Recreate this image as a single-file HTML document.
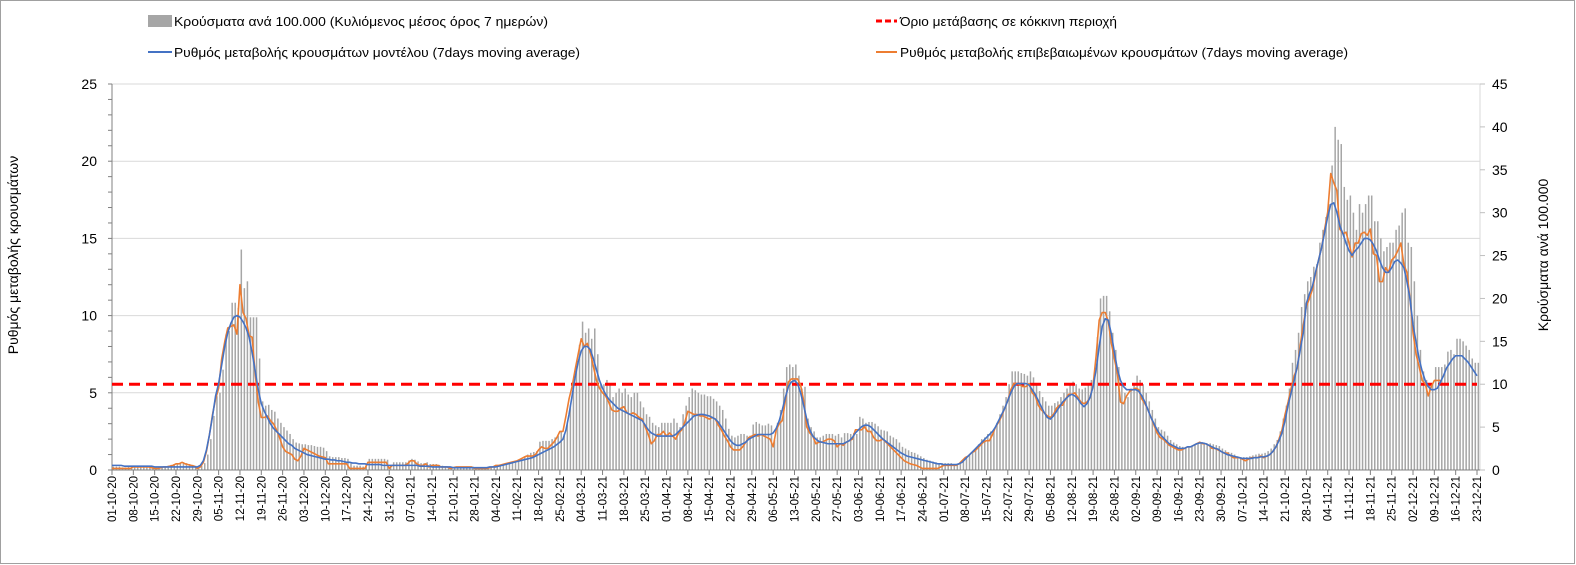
<!DOCTYPE html>
<html><head><meta charset="utf-8">
<style>
html,body{margin:0;padding:0;background:#fff;}
#wrap{position:relative;width:1576px;height:565px;overflow:hidden;}
svg text{font-family:"Liberation Sans","Noto Sans CJK SC",sans-serif;fill:#000;}
</style></head>
<body>
<div id="wrap">
<svg id="chart" width="1576" height="565" viewBox="0 0 1576 565">
<rect x="0.5" y="0.5" width="1574" height="563" fill="#fff" stroke="#a0a0a0"/>
<g id="grid"></g>
<g id="bars"></g>
<g id="axes"></g>
<g id="lines"></g>
<g id="legend">
  <rect x="148" y="15" width="24" height="12" fill="#a6a6a6"/>
  <text x="174" y="26" font-size="13" textLength="374" lengthAdjust="spacingAndGlyphs">Κρούσματα ανά 100.000 (Κυλιόμενος μέσος όρος 7 ημερών)</text>
  <line x1="148" y1="52" x2="172" y2="52" stroke="#4472c4" stroke-width="2"/>
  <text x="174" y="57" font-size="13" textLength="406" lengthAdjust="spacingAndGlyphs">Ρυθμός μεταβολής κρουσμάτων μοντέλου (7days moving average)</text>
  <line x1="876" y1="21" x2="897" y2="21" stroke="#ff0000" stroke-width="3" stroke-dasharray="6,3"/>
  <text x="900" y="26" font-size="13" textLength="217" lengthAdjust="spacingAndGlyphs">Όριο μετάβασης σε κόκκινη περιοχή</text>
  <line x1="876" y1="52" x2="897" y2="52" stroke="#ed7d31" stroke-width="2"/>
  <text x="900" y="57" font-size="13" textLength="448" lengthAdjust="spacingAndGlyphs">Ρυθμός μεταβολής επιβεβαιωμένων κρουσμάτων (7days moving average)</text>
</g>
<text transform="translate(18,255) rotate(-90)" text-anchor="middle" font-size="14">Ρυθμός μεταβολής κρουσμάτων</text>
<text transform="translate(1548,255) rotate(-90)" text-anchor="middle" font-size="14">Κρούσματα ανά 100.000</text>
</svg>
</div>
<script>
// weekly x labels
const weekLabels = ["01-10-20","08-10-20","15-10-20","22-10-20","29-10-20","05-11-20","12-11-20","19-11-20","26-11-20","03-12-20","10-12-20","17-12-20","24-12-20","31-12-20","07-01-21","14-01-21","21-01-21","28-01-21","04-02-21","11-02-21","18-02-21","25-02-21","04-03-21","11-03-21","18-03-21","25-03-21","01-04-21","08-04-21","15-04-21","22-04-21","29-04-21","06-05-21","13-05-21","20-05-21","27-05-21","03-06-21","10-06-21","17-06-21","24-06-21","01-07-21","08-07-21","15-07-21","22-07-21","29-07-21","05-08-21","12-08-21","19-08-21","26-08-21","02-09-21","09-09-21","16-09-21","23-09-21","30-09-21","07-10-21","14-10-21","21-10-21","28-10-21","04-11-21","11-11-21","18-11-21","25-11-21","02-12-21","09-12-21","16-12-21","23-12-21"];
const leftTicks = [0,5,10,15,20,25];
const rightTicks = [0,5,10,15,20,25,30,35,40,45];
const threshold = 10; // cases per 100k (right axis)
// daily cases per 100k (7-day rolling), right axis
const cases = [
.4,.4,.4,.3,.3,.4,.4, .5,.5,.5,.5,.5,.5,.4, .3,.3,.4,.4,.5,.6,.7, .8,.8,.9,.8,.7,.6,.5,
.4,.5,.8,1.8,3.6,6.3,8.6, 9,11.7,15.8,16.2,19.5,19.5,18.9, 25.7,21.2,22,17.8,17.8,17.8,13, 8,7.5,7.6,7,6.8,6,5.5,
5,4.6,4.2,3.6,3.2,3.1,3, 3,2.9,2.9,2.8,2.7,2.7,2.6, 2.2,1.6,1.5,1.5,1.5,1.4,1.4, 1.3,.8,.5,.5,.5,.4,.4,
1.3,1.3,1.3,1.3,1.3,1.3,1.2, .6,.9,.9,.9,.9,.9,1.1, 1.3,1.2,1,.8,.8,.9,.7, .7,.7,.6,.5,.4,.3,.3,
.4,.4,.4,.4,.4,.4,.4, .2,.2,.2,.2,.3,.3,.4, .5,.6,.7,.8,.9,1,1.1, 1.2,1.4,1.6,1.8,2,2.1,2.2,
3.3,3.4,3.4,3.4,3.6,3.8,4, 4.5,4.2,5.5,7.5,10,12,14.6, 17.3,16,16.5,15.3,16.5,13.5,10, 10,10.5,10,8.5,9,9.5,9,
9.5,8.8,8.5,9,9,8,7.3, 6.5,6.2,5.5,5.2,5,5.5,5.5, 5.5,5.5,6,5.5,5,6.5,7.5, 8.5,9.5,9.3,9,8.8,8.8,8.6,
8.6,8.3,8,7.5,7,6,4.8, 4,3.8,4,4.2,4.2,4,4, 5.3,5.6,5.4,5.2,5.2,5.4,5.2, 3.5,5.5,7,9.5,12,12.3,12,
12.3,11,9.5,9.7,6,5,4.5, 3.8,3.8,4,4.2,4.2,4.2,4, 4.2,3.8,4.3,4.3,4.2,4.3,4.2, 6.2,6,5.5,5.6,5.6,5.4,5.1,
4.7,4.6,4.5,4,3.8,3.6,3.2, 2.7,2.5,2.3,2.1,2,1.8,1.6, 1.4,1.2,1.1,1,.9,.8,.8, .8,.8,.8,.7,.7,.9,1.1,
1.5,1.8,2,2.5,3,3.6,3.8, 4.2,4.5,4.7,5.5,6.5,7.5,8.5, 10,11.5,11.5,11.5,11.3,11.2,11, 11.5,10.8,10,9.2,8.5,8,7.5,
7.5,7.8,8,8.5,9,9.5,10, 10.3,10,9.5,9.4,9.6,10,10.5, 11,15.5,20,20.3,20.3,18.5,16, 14,12,10,9,8.5,9.5,10,
11,10.5,10,9,8,7,6, 5,4.7,4.5,4,3.5,3.2,3, 2.8,2.7,2.6,2.7,2.8,3,3.1, 3.2,3.2,3.1,3.1,3,2.9,2.8,
2.5,2.3,2.1,2,1.8,1.6,1.5, 1.5,1.5,1.6,1.7,1.8,1.9,1.9, 2,2.2,2.5,3,3.5,4.5,6, 7.5,9.5,12.5,14,16,19,20.5,
22,22.5,23.7,24,26.5,28,29.5, 31,35.5,40,38.5,38,33,31.5, 32,30,28,31,30,31,32, 32,29,29,27,25.5,26,26.5,
26.5,28,28.5,30,30.5,26.5,26, 22,18,14,11.5,10.5,10,10, 12,12,12,12.3,13.8,14,13.5, 15.3,15.3,15,14.5,14,13,12.5, 12.5];
// model rate of change (left axis)
const modelRate = [
.3,.3,.3,.3,.25,.25,.25, .25,.25,.25,.25,.25,.25,.25, .2,.2,.2,.2,.2,.2,.2, .2,.2,.2,.2,.2,.2,.2,
.2,.3,.6,1.3,2.3,3.5,4.8, 5.6,6.8,8,8.9,9.5,9.9,10, 9.9,9.6,9.2,8.6,7.6,6.4,5.2, 4.3,3.8,3.4,3,2.7,2.5,2.3,
2.1,1.9,1.7,1.6,1.4,1.3,1.2, 1.1,1,.95,.9,.85,.8,.75, .7,.7,.65,.65,.6,.6,.55, .5,.5,.45,.45,.4,.4,.4,
.35,.35,.35,.35,.35,.3,.3, .3,.3,.3,.3,.3,.3,.3, .3,.3,.3,.25,.25,.25,.25, .2,.2,.2,.2,.2,.2,.2,
.15,.15,.15,.15,.15,.15,.15, .15,.15,.15,.15,.15,.2,.2, .2,.25,.3,.35,.4,.45,.5, .55,.6,.65,.7,.75,.8,.9,
1,1.1,1.2,1.3,1.4,1.5,1.65, 1.8,2,2.6,3.6,4.8,6,7, 7.7,8,8,7.8,7.2,6.5,5.8, 5.3,4.9,4.6,4.4,4.2,4,3.9,
3.8,3.7,3.6,3.5,3.4,3.3,3.2, 2.9,2.6,2.4,2.3,2.2,2.2,2.2, 2.2,2.2,2.2,2.3,2.5,2.7,2.9, 3.1,3.3,3.5,3.55,3.6,3.6,3.55,
3.5,3.4,3.3,3.1,2.8,2.5,2.2, 1.9,1.7,1.6,1.6,1.7,1.8,2, 2.1,2.2,2.3,2.3,2.3,2.3,2.3, 2.4,2.7,3.2,3.9,4.7,5.4,5.7,
5.8,5.6,5,4.2,3.3,2.6,2.2, 2,1.85,1.8,1.75,1.7,1.7,1.7, 1.7,1.7,1.7,1.8,1.9,2.1,2.4, 2.6,2.8,2.9,2.9,2.8,2.6,2.4,
2.2,2,1.85,1.7,1.55,1.4,1.25, 1.1,1,.9,.85,.8,.75,.7, .65,.6,.55,.5,.45,.4,.4, .35,.35,.35,.35,.35,.4,.5,
.7,.9,1.1,1.3,1.5,1.7,1.9, 2.1,2.3,2.5,2.8,3.2,3.6,4, 4.5,5,5.4,5.6,5.6,5.6,5.6, 5.5,5.2,4.9,4.5,4.1,3.7,3.4,
3.3,3.5,3.8,4.1,4.4,4.6,4.8, 4.9,4.8,4.6,4.3,4.1,4.3,4.7, 5.4,6.5,8,9.3,9.8,9.7,8.8, 7.6,6.5,5.8,5.4,5.2,5.2,5.2,
5.2,5.1,4.8,4.4,3.9,3.4,3, 2.6,2.3,2.1,1.9,1.7,1.6,1.5, 1.4,1.4,1.4,1.5,1.5,1.6,1.7, 1.75,1.75,1.7,1.6,1.5,1.4,1.35,
1.2,1.1,1,.95,.9,.85,.8, .75,.75,.75,.75,.8,.8,.85, .85,.9,1,1.2,1.5,1.9,2.4, 3.2,4.2,5,5.8,6.7,7.8,8.9,
10.8,11.4,11.9,12.8,13.6,14.4,15.4, 16.4,17.2,17.3,16.7,15.8,15.3,14.7, 14.2,13.9,14.2,14.4,14.7,15,15, 14.9,14.6,14.2,13.6,13.1,12.8,12.8,
13.1,13.5,13.6,13.4,13.1,12.2,11.1, 9.4,8.3,7.2,6.4,5.8,5.4,5.2, 5.2,5.3,5.7,6.1,6.6,6.9,7.2, 7.4,7.4,7.4,7.2,7,6.7,6.4, 6.1];
// confirmed cases rate of change (left axis)
const confirmedRate = [
.1,.1,.1,.1,.1,.1,.1, .2,.2,.2,.2,.2,.2,.15, .1,.1,.15,.2,.2,.25,.3, .4,.4,.5,.4,.35,.3,.25,
.1,.2,.5,1.2,2.3,3.6,4.6, 5.3,7.2,8.3,9.2,9.3,9.4,8.8, 12,10.2,9.8,8.7,8.6,6.2,4.4, 3.4,3.4,3.5,3.2,3,2.6,2.1,
1.5,1.2,1.1,1,.7,.6,.9, 1.4,1.3,1.2,1.1,1,.9,.85, .8,.4,.4,.4,.4,.4,.4, .4,.1,.1,.1,.1,.1,.1,
.5,.5,.5,.5,.5,.5,.5, .1,.3,.3,.3,.3,.3,.4, .6,.6,.4,.3,.3,.4,.2, .3,.3,.3,.2,.2,.2,.1,
.15,.2,.2,.2,.2,.2,.2, .1,.1,.1,.1,.1,.15,.2, .3,.3,.35,.4,.45,.5,.55, .6,.7,.8,.9,.9,.9,1,
1.3,1.5,1.4,1.4,1.6,1.8,2.1, 2.5,2.5,3.5,4.6,5.4,6.5,7.5, 8.5,8,8.2,7.6,6.7,5.8,5.3, 5,4.8,4.4,3.9,3.8,3.8,4,
4.1,3.7,3.6,3.7,3.6,3.4,3.3, 2.8,2.3,1.7,1.9,2.3,2.3,2.5, 2.2,2.4,2.2,2,2.4,2.6,3.1, 3.8,3.7,3.6,3.6,3.5,3.5,3.4,
3.3,3.4,3.3,2.9,2.6,2.2,1.9, 1.5,1.3,1.3,1.3,1.5,1.8,2.1, 2.2,2.3,2.2,2.3,2.2,2.1,2, 1.5,2.6,3,3.2,4.5,5.7,5.9,
5.9,5.9,5.5,4.5,2.8,2.4,2.2, 1.7,1.8,1.8,1.9,2,2,1.9, 1.5,1.7,1.6,1.8,1.9,2,2.6, 2.6,2.6,2.8,2.5,2.5,2.1,1.9,
1.9,2,1.8,1.6,1.4,1.2,1, .8,.6,.5,.4,.35,.3,.2, .1,.1,.1,.1,.1,.1,.2, .3,.3,.3,.3,.3,.4,.6,
.8,.9,1.1,1.2,1.4,1.6,1.8, 1.9,1.9,2.3,2.8,3.1,3.5,4, 4.5,5.2,5.6,5.6,5.5,5.4,5.4, 5.6,5,4.8,4.2,3.9,3.7,3.5,
3.4,3.6,4,4.2,4.2,4.6,4.9, 4.9,5,4.7,4.4,4.3,4.4,4.7, 5.5,7.4,9.7,10.2,10.2,9.6,8.2, 7.2,6.2,4.4,4.3,4.8,5.1,5.2,
5.3,5.2,4.6,4.3,3.9,3.4,2.9, 2.4,2.1,2,1.8,1.6,1.5,1.4, 1.3,1.3,1.4,1.5,1.5,1.6,1.7, 1.8,1.7,1.7,1.6,1.4,1.4,1.3,
1.2,1.1,1.1,.95,.8,.8,.8, .7,.6,.7,.8,.8,.8,.9, .8,.9,1,1.2,1.5,2,2.6, 3.6,4.4,5.3,6.1,6.6,8.1,9.4,
10.6,11.1,11.7,12.7,13.6,14.4,15.6, 16.7,19.2,18.6,18.1,15.6,15.3,15.4, 14.7,13.8,14.7,14.7,15.3,15.4,15.2, 15.6,14,13.9,12.2,12.2,13.1,12.8,
13.6,13.8,14.2,14.7,13.3,12.8,11.1, 8.9,7.5,6.7,5.8,5.6,4.8,5.4, 5.8,5.8,5.8];

const NS='http://www.w3.org/2000/svg';
const X0=112, X1=1477, YB=470, YT=84, LMAX=25, RMAX=45, AXR=1480;
const nDays = 448;
function xScale(i){return X0 + i*(X1-X0)/nDays;}
function yLeft(v){return YB - v*(YB-YT)/LMAX;}
function yRight(v){return YB - v*(YB-YT)/RMAX;}
function mk(tag, attrs, parent){const e=document.createElementNS(NS,tag);for(const k in attrs)e.setAttribute(k,attrs[k]);parent.appendChild(e);return e;}

const grid=document.getElementById('grid');
leftTicks.forEach(t=>{ if(t===0) return;
  const l=mk('line',{x1:X0,x2:AXR,y1:yLeft(t),y2:yLeft(t),stroke:'#d9d9d9','stroke-width':1},grid);
  
  
});

const bars=document.getElementById('bars');
cases.forEach((v,i)=>{
  const y=yRight(v);
  const r=mk('rect',{x:xScale(i)+0.6,y:y,width:1.5,height:YB-y,fill:'#a6a6a6'},bars);
  
  
});

const axes=document.getElementById('axes');
let a=mk('line',{x1:X0,x2:X0,y1:YT,y2:YB,stroke:'#808080'},axes);


a=mk('line',{x1:AXR,x2:AXR,y1:YT,y2:YB,stroke:'#d9d9d9'},axes);


a=mk('line',{x1:X0,x2:AXR,y1:YB,y2:YB,stroke:'#808080'},axes);


for(let v=0; v<=LMAX; v++){
  mk('line',{x1:X0-4,x2:X0,y1:yLeft(v),y2:yLeft(v),stroke:'#808080'},axes);
}
leftTicks.forEach(t=>{
  const tx=mk('text',{x:97,y:yLeft(t)+5,'text-anchor':'end','font-size':14},axes);
  tx.textContent=t;
  
  
});
rightTicks.forEach(t=>{
  mk('line',{x1:AXR,x2:AXR+5,y1:yRight(t),y2:yRight(t),stroke:'#bfbfbf'},axes);
  const tx=mk('text',{x:1492,y:yRight(t)+5,'text-anchor':'start','font-size':14},axes);
  tx.textContent=t;
  
  
});
weekLabels.forEach((lab,k)=>{
  const x=xScale(k*7);
  mk('line',{x1:x,x2:x,y1:YB,y2:YB+5,stroke:'#808080'},axes);
  const tx=mk('text',{transform:`translate(${x+4},${YB+6}) rotate(-90)`,'text-anchor':'end','font-size':11.5},axes);
  tx.textContent=lab;
  
  
});

const lines=document.getElementById('lines');
const th=mk('line',{x1:X0,x2:X1,y1:yRight(threshold),y2:yRight(threshold),stroke:'#ff0000','stroke-width':3,'stroke-dasharray':'11,6'},lines);


function path(arr){return arr.map((v,i)=>(i?'L':'M')+xScale(i).toFixed(2)+','+yLeft(v).toFixed(2)).join('');}
const po=mk('path',{d:path(confirmedRate),fill:'none',stroke:'#ed7d31','stroke-width':1.6,'stroke-linejoin':'round'},lines);


const pb=mk('path',{d:path(modelRate),fill:'none',stroke:'#4472c4','stroke-width':1.6,'stroke-linejoin':'round'},lines);


</script>
</body></html>
